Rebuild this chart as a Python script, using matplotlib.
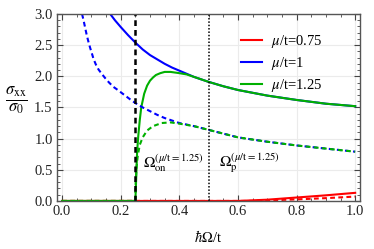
import matplotlib
matplotlib.use('Agg')

import matplotlib.pyplot as plt
import numpy as np
from matplotlib.ticker import MultipleLocator, FormatStrFormatter

plt.rcParams['font.family'] = ['Liberation Serif', 'DejaVu Serif']
plt.rcParams['mathtext.fontset'] = 'stix'

# mu/t = 1 (blue), solid and dashed
w_b = [0.164, 0.18, 0.2, 0.225, 0.25, 0.275, 0.3, 0.325, 0.35, 0.375, 0.4, 0.45,
       0.5, 0.55, 0.6, 0.7, 0.8, 0.9, 1.0]
s_b = [3.0, 2.9, 2.79, 2.66, 2.54, 2.43, 2.34, 2.27, 2.2, 2.14, 2.09, 1.99,
       1.91, 1.84, 1.78, 1.69, 1.62, 1.56, 1.52]
w_bd = [0.068, 0.073, 0.079, 0.084, 0.09, 0.096, 0.102, 0.107, 0.115, 0.124, 0.135,
        0.147, 0.16, 0.175, 0.19, 0.204, 0.218, 0.232, 0.25, 0.275, 0.3, 0.325,
        0.35, 0.375, 0.4, 0.45, 0.5, 0.55, 0.6, 0.7, 0.8, 0.9, 1.0]
s_bd = [3.0, 2.9, 2.77, 2.66, 2.55, 2.45, 2.36, 2.28, 2.19, 2.11, 2.04,
        1.97, 1.90, 1.83, 1.78, 1.73, 1.68, 1.63, 1.57, 1.50, 1.44, 1.38,
        1.33, 1.29, 1.25, 1.20, 1.14, 1.08, 1.02, 0.95, 0.89, 0.84, 0.79]

# mu/t = 1.25 (green)
w_g = [0.0, 0.25, 0.253, 0.256, 0.26, 0.265, 0.27, 0.28, 0.29, 0.3, 0.31, 0.32,
       0.335, 0.35, 0.37, 0.4, 0.425, 0.45, 0.5, 0.55, 0.6, 0.7, 0.8, 0.9, 1.0]
s_g = [0.0, 0.0, 0.4, 0.8, 1.05, 1.3, 1.5, 1.72, 1.85, 1.93, 1.98, 2.02,
       2.05, 2.07, 2.07, 2.05, 2.03, 1.99, 1.91, 1.84, 1.78, 1.69, 1.62, 1.56, 1.52]
w_gd = [0.0, 0.25, 0.251, 0.254, 0.258, 0.265, 0.275, 0.29, 0.31, 0.34, 0.37,
        0.4, 0.45, 0.5, 0.55, 0.6, 0.7, 0.8, 0.9, 1.0]
s_gd = [0.0, 0.0, 0.3, 0.55, 0.72, 0.9, 1.02, 1.13, 1.2, 1.25, 1.26,
        1.24, 1.20, 1.14, 1.08, 1.02, 0.95, 0.89, 0.84, 0.79]

# mu/t = 0.75 (red)
w_r = [0.0, 0.6, 0.7, 0.8, 0.9, 1.0]
s_r = [0.0, 0.0, 0.02, 0.055, 0.09, 0.13]
w_rd = [0.0, 0.65, 0.8, 0.9, 1.0]
s_rd = [0.0, 0.0, 0.025, 0.045, 0.07]

red = '#FF0000'
blue = '#0000FF'
green = '#00B000'
dash = (0, (2.3, 1.6))

fig = plt.figure(figsize=(3.74, 2.49), dpi=100)
ax = fig.add_axes([0.152, 0.193, 0.811, 0.751])

ax.plot(w_r, s_r, color=red, lw=1.5, label=r'$\mu$/t=0.75')
ax.plot(w_b, s_b, color=blue, lw=1.5, label=r'$\mu$/t=1')
ax.plot(w_g, s_g, color=green, lw=1.5, label=r'$\mu$/t=1.25')
ax.plot(w_rd, s_rd, color=red, lw=1.5, ls=dash)
ax.plot(w_bd, s_bd, color=blue, lw=1.5, ls=dash)
ax.plot(w_gd, s_gd, color=green, lw=1.5, ls=dash)

ax.axvline(0.25, color='black', lw=1.8, ls=dash)
ax.axvline(0.5, color='black', lw=1.1, ls=(0, (1, 1.2)))

ax.text(0.277, 0.6, r'$\Omega_{\rm on}^{(\mu/{\rm t}=1.25)}$', fontsize=11, va='center')
ax.text(0.537, 0.6, r'$\Omega_{\rm p}^{(\mu/{\rm t}=1.25)}$', fontsize=11, va='center')

ax.set_xlim(-0.018, 1.017)
ax.set_ylim(0, 3.0)
ax.xaxis.set_major_locator(MultipleLocator(0.2))
ax.xaxis.set_minor_locator(MultipleLocator(0.05))
ax.yaxis.set_major_locator(MultipleLocator(0.5))
ax.yaxis.set_minor_locator(MultipleLocator(0.1))
ax.xaxis.set_major_formatter(FormatStrFormatter('%.1f'))
ax.yaxis.set_major_formatter(FormatStrFormatter('%.1f'))
ax.tick_params(which='both', direction='in', top=True, right=True, colors='#444444',
               labelcolor='#222222', labelsize=10.5, pad=3)
ax.tick_params(which='major', length=4, width=0.8)
ax.tick_params(which='minor', length=2, width=0.6)
for s in ax.spines.values():
    s.set_color('#555555')
    s.set_linewidth(1.0)
ax.grid(True, color='#EBEBEB', lw=0.8)
ax.set_axisbelow(True)

ax.set_xlabel(r'$\hbar\Omega$/t', fontsize=10.5, labelpad=8)
ax.set_ylabel(r'$\frac{\sigma_{\rm xx}}{\sigma_0}$', fontsize=17, rotation=0, va='center')
ax.yaxis.set_label_coords(-0.135, 0.54)

ax.legend(loc='upper right', bbox_to_anchor=(0.92, 0.97), frameon=False, fontsize=10.5,
          handlelength=1.5, handletextpad=0.6, labelspacing=0.35)

plt.savefig('out.png', dpi=100)
